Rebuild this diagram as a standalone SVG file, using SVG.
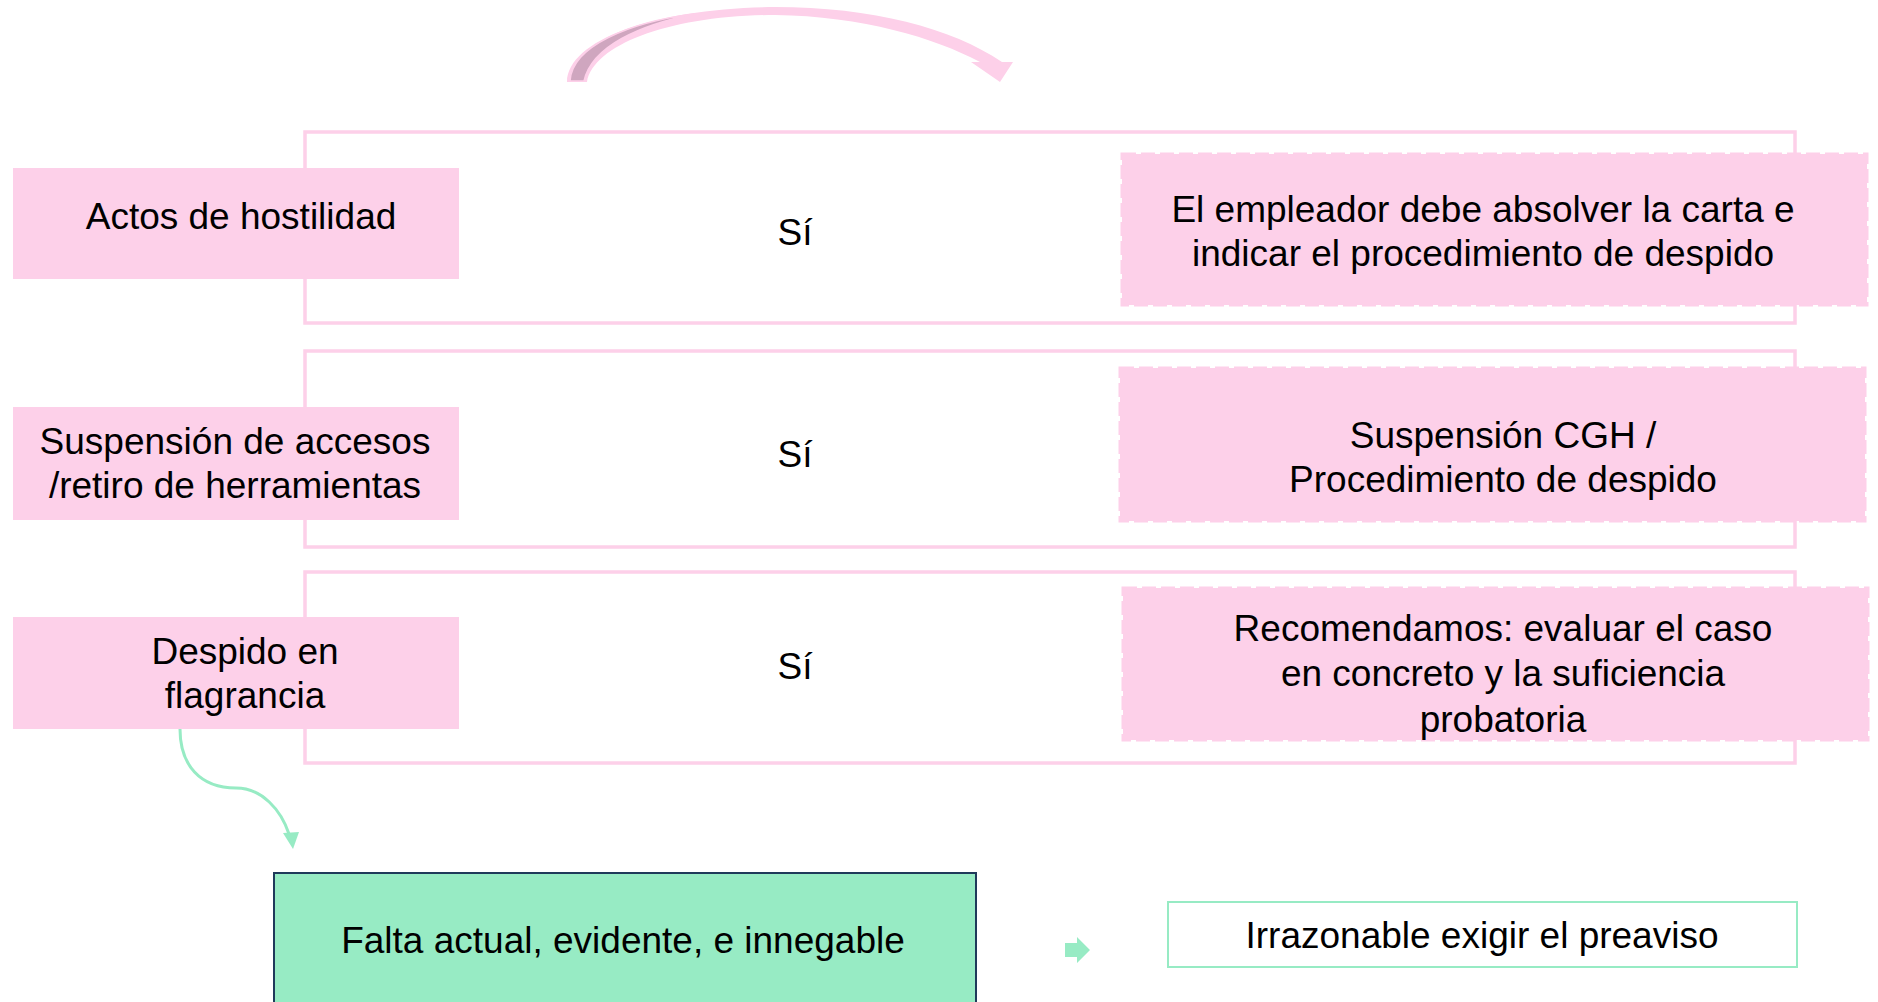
<svg xmlns="http://www.w3.org/2000/svg" width="1878" height="1002" viewBox="0 0 1878 1002">
<style>
.frame{fill:none;stroke:#FDD0E9;stroke-width:3.5}
.pink{fill:#FDD0E9}
.dash{fill:#FDD0E9;stroke:#FDD0E9;stroke-width:3;stroke-dasharray:14 5}
.t{font-family:"Liberation Sans",Arial,sans-serif;font-size:37px;fill:#000;text-anchor:middle}
</style>
<rect width="1878" height="1002" fill="#FFFFFF"/>
<g id="connectors">
<g id="top-arrow">
<path d="M567,82 C568,38 660,8 775,7 C872,7 952,28 1002,62 L1013,62 L1000,82 L971,62 L980,62 C935,38 862,16 775,15 C672,15 594,44 587,82 Z" fill="#FDD0E9"/>
<path d="M570,81 C572,46 630,22 694,14 C640,25 592,46 584,81 Z" fill="#CFA6BF" stroke="#FDD0E9" stroke-width="1.5"/>
</g>
<g id="flagrancia-arrow">
<path d="M180,729 C180,765 200,788 236,788 C262,788 281,810 289,834" fill="none" stroke="#97EBC4" stroke-width="3"/>
<polygon points="283,833 299,832 293,849" fill="#97EBC4"/>
</g>
<polygon id="small-arrow" points="1065,943 1077,943 1077,937 1090,950 1077,963 1077,957 1065,957" fill="#97EBC4"/>
</g>
<g id="frame1"><rect class="frame" x="305" y="132" width="1490" height="191"/></g>
<g id="frame2"><rect class="frame" x="305" y="351" width="1490" height="196"/></g>
<g id="frame3"><rect class="frame" x="305" y="572" width="1490" height="191"/></g>
<g id="node-actos">
<rect class="pink" x="13" y="168" width="446" height="111"/>
<text class="t" x="241" y="229">Actos de hostilidad</text>
</g>
<g id="node-suspension">
<rect class="pink" x="13" y="407" width="446" height="113"/>
<text class="t" x="235" y="454">Suspensión de accesos</text>
<text class="t" x="235" y="498">/retiro de herramientas</text>
</g>
<g id="node-despido">
<rect class="pink" x="13" y="617" width="446" height="112"/>
<text class="t" x="245" y="664">Despido en</text>
<text class="t" x="245" y="708">flagrancia</text>
</g>
<g id="label-si1"><text class="t" x="795" y="245">Sí</text></g>
<g id="label-si2"><text class="t" x="795" y="467">Sí</text></g>
<g id="label-si3"><text class="t" x="795" y="679">Sí</text></g>
<g id="result1">
<rect class="dash" x="1122" y="154" width="745" height="151"/>
<text class="t" x="1483" y="222">El empleador debe absolver la carta e</text>
<text class="t" x="1483" y="266">indicar el procedimiento de despido</text>
</g>
<g id="result2">
<rect class="dash" x="1120" y="368" width="745" height="153"/>
<text class="t" x="1503" y="448">Suspensión CGH /</text>
<text class="t" x="1503" y="492">Procedimiento de despido</text>
</g>
<g id="result3">
<rect class="dash" x="1123" y="588" width="745" height="152"/>
<text class="t" x="1503" y="641">Recomendamos: evaluar el caso</text>
<text class="t" x="1503" y="686">en concreto y la suficiencia</text>
<text class="t" x="1503" y="732">probatoria</text>
</g>
<g id="node-falta">
<rect x="274" y="873" width="702" height="140" fill="#97EBC4" stroke="#1F3A5A" stroke-width="2"/>
<text class="t" x="623" y="953">Falta actual, evidente, e innegable</text>
</g>
<g id="node-irrazonable">
<rect x="1168" y="902" width="629" height="65" fill="#FFFFFF" stroke="#97EBC4" stroke-width="2"/>
<text class="t" x="1482" y="948">Irrazonable exigir el preaviso</text>
</g>
</svg>
